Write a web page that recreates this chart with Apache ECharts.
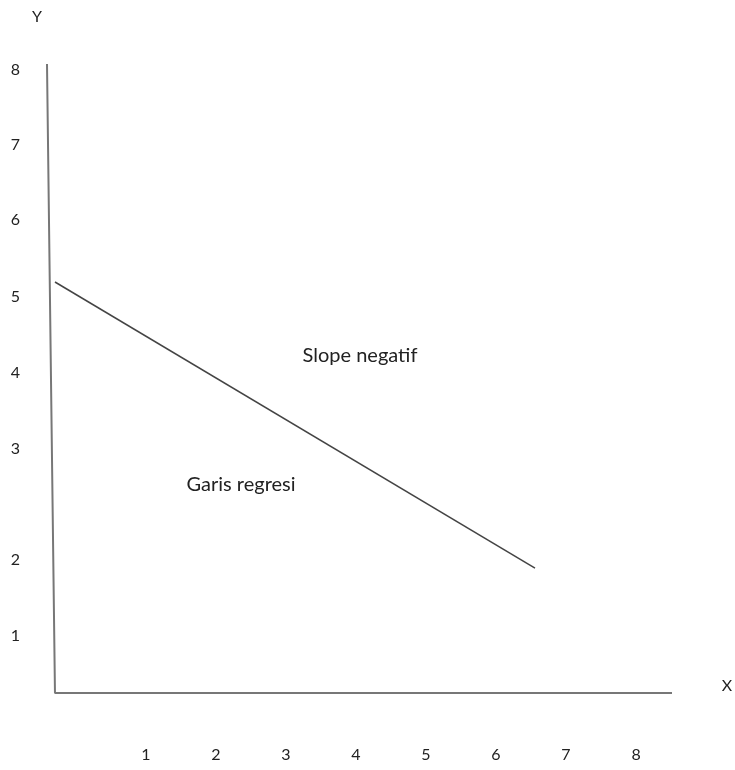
<!DOCTYPE html>
<html>
<head>
<meta charset="utf-8">
<script src="https://cdn.jsdelivr.net/npm/echarts@6/dist/echarts.min.js"></script>
<style>
html,body{margin:0;padding:0;background:#fff;}
#chart{width:735px;height:770px;}
</style>
</head>
<body>
<div id="chart"></div>
<script>
// Tick labels and their positions on the (hand-drawn) axes
var xTickValues = [1, 2, 3, 4, 5, 6, 7, 8];
var xTickLabels = ['1', '2', '3', '4', '5', '6', '7', '8'];
var yTickValues = [0.52, 1.53, 2.99, 4.0, 5.0, 6.02, 7.01, 8.0];
var yTickLabels = ['1', '2', '3', '4', '5', '6', '7', '8'];
// Regression line (negative slope)
var regressionX = [-0.3, 6.557];
var regressionY = [5.20, 1.42];
// Hand-drawn axes: slightly slanted Y axis meeting the X axis
var axesLineX = [-0.414, -0.3, 8.514];
var axesLineY = [8.08, -0.23, -0.23];

var FONT = 'Lato';
var chart = echarts.init(document.getElementById('chart'), null, {renderer: 'canvas'});

function pairs(xs, ys) { return xs.map(function (x, i) { return [x, ys[i]]; }); }

chart.setOption({
  animation: false,
  backgroundColor: '#ffffff',
  grid: {left: 47, right: 63, top: 64, bottom: 77, containLabel: false},
  xAxis: {
    type: 'value', min: -0.414, max: 8.514,
    axisLine: {show: false},
    axisTick: {show: false},
    splitLine: {show: false},
    axisLabel: {
      customValues: xTickValues,
      margin: 54,
      color: '#222', fontFamily: FONT, fontSize: 16,
      formatter: function (v) {
        var i = xTickValues.indexOf(v);
        return i >= 0 ? xTickLabels[i] : '';
      }
    }
  },
  yAxis: {
    type: 'value', min: -0.23, max: 8.08,
    axisLine: {show: false},
    axisTick: {show: false},
    splitLine: {show: false},
    axisLabel: {
      customValues: yTickValues,
      margin: 27,
      color: '#222', fontFamily: FONT, fontSize: 16,
      formatter: function (v) {
        var i = yTickValues.indexOf(v);
        return i >= 0 ? yTickLabels[i] : '';
      }
    }
  },
  series: [
    {
      type: 'line', data: pairs(axesLineX, axesLineY), clip: false,
      symbol: 'none', silent: true,
      lineStyle: {color: '#777', width: 2}
    },
    {
      type: 'line', data: pairs(regressionX, regressionY),
      symbol: 'none', silent: true,
      lineStyle: {color: '#444', width: 1.5}
    }
  ],
  graphic: [
    {type: 'text', x: 37, y: 17, style: {text: 'Y', fill: '#222', font: '16px ' + FONT, align: 'center', verticalAlign: 'middle'}},
    {type: 'text', x: 727, y: 686, style: {text: 'X', fill: '#222', font: '16px ' + FONT, align: 'center', verticalAlign: 'middle'}},
    {type: 'text', x: 360, y: 356, style: {text: 'Slope negatif', fill: '#222', font: '20px ' + FONT, align: 'center', verticalAlign: 'middle'}},
    {type: 'text', x: 241, y: 485, style: {text: 'Garis regresi', fill: '#222', font: '20px ' + FONT, align: 'center', verticalAlign: 'middle'}}
  ]
});
</script>
</body>
</html>
